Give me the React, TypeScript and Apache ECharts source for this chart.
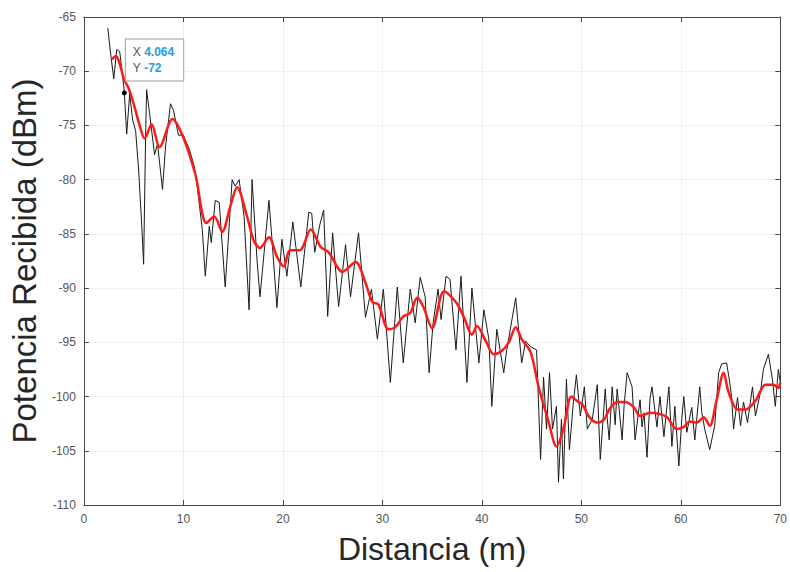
import React, { useEffect, useRef } from "react";
import * as echarts from "echarts";

const rawDist = [
  2.4, 2.7, 3.0, 3.3, 3.6, 3.9, 4.064, 4.3, 4.6, 4.9, 5.2, 5.5, 5.8, 6.0, 6.2, 6.3, 6.6, 7.1, 7.4, 7.9,
  8.2, 8.7, 9.0, 9.5, 10.0, 10.6, 11.1, 11.4, 11.9, 12.2, 12.6, 12.8, 13.2, 13.6, 14.2, 14.9, 15.2, 15.6, 16.1, 16.6,
  16.9, 17.4, 17.7, 18.6, 18.9, 19.4, 19.9, 20.4, 21.0, 21.8, 22.6, 22.9, 23.2, 23.7, 24.1, 24.5, 25.0, 25.6, 26.3, 26.8,
  27.6, 28.3, 28.9, 29.5, 30.1, 30.8, 31.5, 32.1, 32.8, 33.3, 33.8, 34.3, 34.7, 35.1, 35.6, 35.9, 36.4, 36.8, 37.4, 37.9,
  38.5, 39.0, 39.7, 40.2, 40.7, 41.0, 41.5, 42.2, 42.5, 43.4, 44.0, 44.4, 44.9, 45.5, 45.9, 46.2, 46.5, 46.8, 47.1, 47.5,
  47.7, 48.0, 48.2, 48.5, 48.8, 49.2, 49.5, 49.9, 50.3, 50.6, 51.1, 51.6, 51.9, 52.4, 52.6, 52.8, 53.1, 53.4, 53.6, 54.1,
  54.3, 54.6, 55.1, 55.4, 55.9, 56.1, 56.3, 56.6, 56.9, 57.1, 57.6, 57.9, 58.3, 58.8, 59.1, 59.4, 59.8, 60.1, 60.3, 60.6,
  61.1, 61.4, 61.9, 62.1, 62.4, 62.9, 63.4, 63.8, 64.1, 64.6, 64.9, 65.1, 65.3, 65.7, 66.0, 66.3, 66.7, 67.2, 67.5, 68.0,
  68.3, 68.8, 69.2, 69.5, 69.8, 70.0,
];
const rawPower = [
  -66.0, -68.5, -70.7, -68.0, -68.2, -70.5, -72.0, -75.8, -72.1, -74.5, -75.5, -79.1, -84.0, -87.8, -76.0, -71.7, -73.9, -77.7, -76.7, -80.9,
  -77.0, -73.0, -73.6, -75.9, -75.9, -77.2, -78.8, -80.7, -84.6, -88.9, -84.3, -85.8, -81.9, -82.1, -89.9, -80.0, -80.6, -80.0, -83.4, -92.0,
  -80.0, -87.4, -90.8, -81.9, -85.5, -91.8, -85.5, -88.9, -83.9, -89.9, -83.0, -83.1, -86.7, -84.2, -82.8, -92.6, -84.9, -91.7, -86.0, -90.8,
  -84.9, -92.7, -90.1, -94.7, -90.1, -98.7, -89.9, -96.9, -90.1, -93.2, -89.0, -90.8, -97.8, -93.2, -90.1, -92.9, -88.9, -89.2, -95.7, -88.9,
  -98.7, -90.0, -96.9, -92.0, -94.7, -100.9, -93.8, -97.8, -95.7, -90.9, -96.9, -94.9, -95.4, -95.7, -105.8, -98.2, -103.0, -97.8, -103.0, -100.9,
  -107.9, -102.1, -107.6, -98.4, -104.9, -100.5, -98.0, -101.8, -99.1, -103.0, -102.1, -98.9, -105.8, -99.3, -102.0, -104.0, -99.1, -102.6, -99.3, -104.0,
  -100.8, -97.8, -99.1, -104.0, -100.3, -102.8, -101.5, -105.6, -100.2, -99.1, -102.8, -100.0, -103.7, -99.1, -104.6, -100.9, -106.4, -102.0, -100.0, -103.3,
  -101.0, -104.0, -99.1, -101.4, -103.0, -104.9, -102.7, -97.8, -97.0, -96.9, -98.6, -100.0, -103.0, -100.1, -102.7, -100.5, -102.4, -99.1, -101.8, -99.6,
  -97.5, -96.1, -98.4, -100.9, -97.5, -98.7,
];

const smoothDist = [
  2.8, 3.2, 4.06, 4.5, 5.0, 5.6, 6.1, 6.8, 7.6, 8.9, 9.9, 11.2, 12.3, 13.1, 13.9, 14.7, 15.4, 16.4, 17.1, 17.7,
  18.6, 19.4, 20.1, 20.7, 21.7, 22.8, 23.8, 24.6, 26.0, 27.3, 28.3, 29.0, 29.6, 30.6, 31.3, 32.1, 32.8, 33.5, 34.1, 35.0,
  36.2, 37.4, 38.2, 39.0, 39.5, 40.4, 41.2, 42.0, 42.7, 43.4, 44.0, 44.9, 45.7, 46.7, 47.5, 48.2, 49.0, 49.7, 50.1, 50.8,
  51.6, 52.3, 52.8, 53.6, 54.4, 55.3, 55.9, 56.9, 57.8, 58.6, 59.6, 60.3, 60.9, 61.6, 62.3, 62.9, 63.6, 64.3, 64.8, 65.7,
  66.5, 67.5, 68.5, 69.3, 69.8, 70.0,
];
const smoothPower = [
  -68.9, -68.6, -70.8, -71.6, -73.0, -75.0, -76.2, -74.9, -77.0, -74.4, -75.9, -79.5, -84.0, -83.4, -84.8, -82.5, -80.7, -83.4, -85.7, -86.3,
  -85.3, -87.1, -88.0, -86.5, -86.5, -84.6, -86.2, -86.7, -88.5, -87.6, -89.5, -91.3, -91.5, -93.8, -93.6, -92.6, -92.3, -90.9, -91.7, -93.7,
  -90.3, -91.3, -92.7, -94.3, -93.5, -94.9, -96.1, -95.8, -95.0, -93.6, -94.7, -95.9, -99.1, -102.3, -104.6, -103.0, -100.0, -100.5, -100.7, -101.9,
  -102.4, -102.1, -101.2, -100.5, -100.5, -101.0, -101.8, -101.5, -101.6, -101.9, -103.0, -102.8, -102.3, -102.4, -101.9, -102.7, -100.3, -97.8, -99.6, -101.2,
  -101.2, -100.4, -98.9, -98.9, -99.2, -98.7,
];

const xTicks = [0, 10, 20, 30, 40, 50, 60, 70];
const yTicks = [-110, -105, -100, -95, -90, -85, -80, -75, -70, -65];
const tipX = 4.064;
const tipY = -72;

export default function App() {
  const ref = useRef<HTMLDivElement>(null);
  useEffect(() => {
    if (!ref.current) return;
    const chart = echarts.init(ref.current, undefined, { renderer: "svg" });
    const axisColor = "#4a4a4a";
    const labelColor = "#555";
    const font = "Liberation Sans, Arial, sans-serif";
    const baseX = {
      type: "value",
      min: xTicks[0],
      max: xTicks[xTicks.length - 1],
      interval: 10,
    };
    const baseY = {
      type: "value",
      min: yTicks[0],
      max: yTicks[yTicks.length - 1],
      interval: 5,
    };
    chart.setOption({
      animation: false,
      backgroundColor: "#ffffff",
      grid: { left: 80, right: 4, top: 17, bottom: 67, containLabel: false },
      xAxis: [
        {
          ...baseX,
          position: "bottom",
          name: "Distancia (m)",
          nameLocation: "middle",
          nameGap: 28,
          nameTextStyle: { fontSize: 32, color: "#262626", fontFamily: font },
          axisLine: { show: true, onZero: false, lineStyle: { color: axisColor, width: 1 } },
          axisTick: { show: true, inside: true, length: 5, lineStyle: { color: axisColor } },
          axisLabel: { color: labelColor, fontSize: 12, fontFamily: font, margin: 8 },
          splitLine: { show: true, lineStyle: { color: "#f0f0f0", width: 1 } },
        },
        {
          ...baseX,
          position: "top",
          axisLine: { show: true, onZero: false, lineStyle: { color: axisColor, width: 1 } },
          axisTick: { show: true, inside: true, length: 5, lineStyle: { color: axisColor } },
          axisLabel: { show: false },
          splitLine: { show: false },
        },
      ],
      yAxis: [
        {
          ...baseY,
          position: "left",
          name: "Potencia Recibida (dBm)",
          nameLocation: "middle",
          nameGap: 42,
          nameTextStyle: { fontSize: 33, color: "#262626", fontFamily: font },
          axisLine: { show: true, onZero: false, lineStyle: { color: axisColor, width: 1 } },
          axisTick: { show: true, inside: true, length: 5, lineStyle: { color: axisColor } },
          axisLabel: { color: labelColor, fontSize: 12, fontFamily: font, margin: 8 },
          splitLine: { show: true, lineStyle: { color: "#f0f0f0", width: 1 } },
        },
        {
          ...baseY,
          position: "right",
          axisLine: { show: true, onZero: false, lineStyle: { color: axisColor, width: 1 } },
          axisTick: { show: true, inside: true, length: 5, lineStyle: { color: axisColor } },
          axisLabel: { show: false },
          splitLine: { show: false },
        },
      ],
      series: [
        {
          type: "line",
          name: "raw",
          xAxisIndex: 0,
          yAxisIndex: 0,
          data: rawDist.map((d, i) => [d, rawPower[i]]),
          showSymbol: false,
          symbol: "none",
          lineStyle: { color: "#1a1a1a", width: 1 },
          z: 2,
          markPoint: {
            symbol: "circle",
            symbolSize: 5,
            itemStyle: { color: "#000" },
            data: [
              {
                coord: [tipX, tipY],
                label: {
                  show: true,
                  position: [4, -51],
                  formatter: () => `{k|X} {v|${tipX.toFixed(3)}}\n{k|Y} {v|${tipY}}`,
                  backgroundColor: "rgba(255,255,255,0.92)",
                  borderColor: "#a0a0a0",
                  borderWidth: 1,
                  padding: [5, 9, 4, 7],
                  lineHeight: 16,
                  rich: {
                    k: { color: "#555", fontSize: 12, fontFamily: font, lineHeight: 16 },
                    v: { color: "#2a9be0", fontSize: 12, fontWeight: "bold", fontFamily: font, lineHeight: 16 },
                  },
                },
              },
            ],
          },
        },
        {
          type: "line",
          name: "smooth",
          xAxisIndex: 0,
          yAxisIndex: 0,
          data: smoothDist.map((d, i) => [d, smoothPower[i]]),
          showSymbol: false,
          symbol: "none",
          smooth: 0.3,
          lineStyle: { color: "#ff1a1a", width: 2.5 },
          z: 3,
        },
      ],
    });
    return () => chart.dispose();
  }, []);
  return (
    <div
      ref={ref}
      style={{ position: "fixed", left: 0, top: 0, width: 790, height: 572 }}
    />
  );
}
